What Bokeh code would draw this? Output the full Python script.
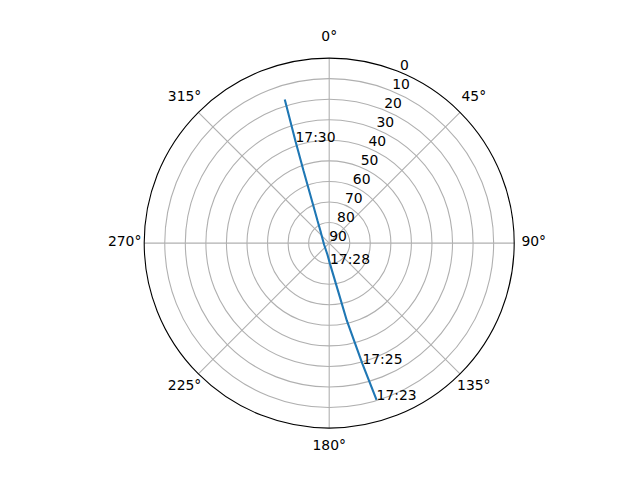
import numpy as np
from bokeh.plotting import figure
from bokeh.models import Range1d
from bokeh.core.properties import value
from bokeh.embed import file_html
from bokeh.resources import INLINE

# ---- data ----
track_az = [163.2, 164.6, 167.2, 169.6, 177.8, 189.0, 254.6, 322.0, 332.6, 337.9, 340.5, 341.7, 342.8]
track_el = [10.3, 29.1, 51.4, 66.6, 79.9, 84.4, 87.4, 83.4, 77.6, 67.6, 52.5, 37.8, 16.9]

label_times = ["17:23", "17:25", "17:28", "17:30"]
label_az = [163.2, 164.6, 177.8, 341.7]
label_el = [10.3, 29.1, 79.9, 37.8]

theta_ticks = [0, 45, 90, 135, 180, 225, 270, 315]
theta_labels = ["0°", "45°", "90°", "135°", "180°", "225°", "270°", "315°"]
r_ticks = [0, 10, 20, 30, 40, 50, 60, 70, 80, 90]
r_labels = ["0", "10", "20", "30", "40", "50", "60", "70", "80", "90"]

# ---- layout ----
W, H = 624, 464
CX, CY = 328.7, 242.6          # centre of polar area in figure pixels
RMAX_PX = 185.0
RMAX = 90.0
K = RMAX_PX / RMAX             # pixels per unit
FONT = value("DejaVu Sans")
FS = "13.9px"


def to_xy(az, el):
    az = np.radians(np.asarray(az, dtype=float))
    r = RMAX - np.asarray(el, dtype=float)
    return r * np.sin(az), r * np.cos(az)


p = figure(width=W, height=H, output_backend="svg", toolbar_location=None,
           x_range=Range1d(-CX / K, (W - CX) / K),
           y_range=Range1d(-(H - CY) / K, CY / K),
           min_border=0, tools="")
p.axis.visible = False
p.grid.visible = False
p.outline_line_color = None
p.background_fill_color = "white"
p.border_fill_color = "white"

# grid circles
inner = [RMAX - t for t in r_ticks if 0 < RMAX - t < RMAX]
p.circle(x=[0] * len(inner), y=[0] * len(inner), radius=inner,
         fill_color=None, line_color="#b0b0b0", line_width=1.1)

# spokes
ang = np.radians(theta_ticks)
p.segment(x0=[0] * len(ang), y0=[0] * len(ang),
          x1=list(RMAX * np.sin(ang)), y1=list(RMAX * np.cos(ang)),
          line_color="#b0b0b0", line_width=1.1)

# outer frame
p.circle(x=[0], y=[0], radius=[RMAX], fill_color=None,
         line_color="black", line_width=1.1)

# track
tx, ty = to_xy(track_az, track_el)
p.line(x=list(tx), y=list(ty), line_color="#1f77b4", line_width=2.1)

# theta labels
RL = RMAX + 9.5
p.text(x=list(RL * np.sin(ang)), y=list(RL * np.cos(ang)), text=theta_labels,
       text_align="center", text_baseline="middle", y_offset=-2.5,
       text_font=FONT, text_font_size=FS, text_color="black")

# radial labels at 22.5 deg
ra = np.radians(22.5)
rd = [RMAX - t for t in r_ticks]
p.text(x=[d * np.sin(ra) for d in rd], y=[d * np.cos(ra) for d in rd], text=r_labels,
       text_align="left", text_baseline="alphabetic", y_offset=-7.5,
       text_font=FONT, text_font_size=FS, text_color="black")

# time labels
lx, ly = to_xy(label_az, label_el)
p.text(x=list(lx), y=list(ly), text=label_times,
       text_align="left", text_baseline="alphabetic", y_offset=-4.5,
       text_font=FONT, text_font_size=FS, text_color="black")

open("out.html", "w").write(file_html(p, INLINE))
